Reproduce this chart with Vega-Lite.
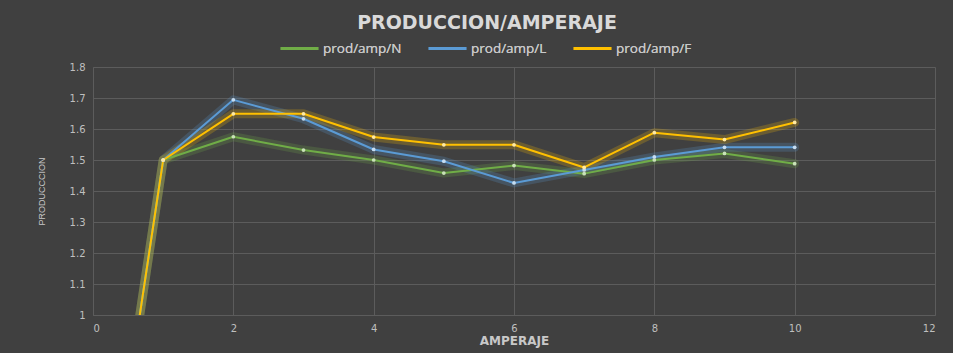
{
  "$schema": "https://vega.github.io/schema/vega-lite/v6.json",
  "width": 842,
  "height": 248,
  "autosize": "none",
  "padding": {"left": 93, "top": 67, "right": 18, "bottom": 38},
  "background": "#404040",
  "title": {
    "text": "PRODUCCION/AMPERAJE",
    "font": "DejaVu Sans",
    "fontSize": 19,
    "fontWeight": "bold",
    "color": "#D9D9D9",
    "anchor": "middle",
    "dx": -27,
    "offset": -5
  },
  "data": {
    "values": [
      {"amp": 0, "prod": 0, "serie": "prod/amp/N"},
      {"amp": 1, "prod": 1.5, "serie": "prod/amp/N"},
      {"amp": 2, "prod": 1.575, "serie": "prod/amp/N"},
      {"amp": 3, "prod": 1.532, "serie": "prod/amp/N"},
      {"amp": 4, "prod": 1.5, "serie": "prod/amp/N"},
      {"amp": 5, "prod": 1.458, "serie": "prod/amp/N"},
      {"amp": 6, "prod": 1.482, "serie": "prod/amp/N"},
      {"amp": 7, "prod": 1.456, "serie": "prod/amp/N"},
      {"amp": 8, "prod": 1.5, "serie": "prod/amp/N"},
      {"amp": 9, "prod": 1.521, "serie": "prod/amp/N"},
      {"amp": 10, "prod": 1.488, "serie": "prod/amp/N"},
      {"amp": 0, "prod": 0, "serie": "prod/amp/L"},
      {"amp": 1, "prod": 1.5, "serie": "prod/amp/L"},
      {"amp": 2, "prod": 1.694, "serie": "prod/amp/L"},
      {"amp": 3, "prod": 1.633, "serie": "prod/amp/L"},
      {"amp": 4, "prod": 1.534, "serie": "prod/amp/L"},
      {"amp": 5, "prod": 1.496, "serie": "prod/amp/L"},
      {"amp": 6, "prod": 1.426, "serie": "prod/amp/L"},
      {"amp": 7, "prod": 1.468, "serie": "prod/amp/L"},
      {"amp": 8, "prod": 1.51, "serie": "prod/amp/L"},
      {"amp": 9, "prod": 1.541, "serie": "prod/amp/L"},
      {"amp": 10, "prod": 1.541, "serie": "prod/amp/L"},
      {"amp": 0, "prod": 0, "serie": "prod/amp/F"},
      {"amp": 1, "prod": 1.5, "serie": "prod/amp/F"},
      {"amp": 2, "prod": 1.649, "serie": "prod/amp/F"},
      {"amp": 3, "prod": 1.649, "serie": "prod/amp/F"},
      {"amp": 4, "prod": 1.574, "serie": "prod/amp/F"},
      {"amp": 5, "prod": 1.549, "serie": "prod/amp/F"},
      {"amp": 6, "prod": 1.549, "serie": "prod/amp/F"},
      {"amp": 7, "prod": 1.476, "serie": "prod/amp/F"},
      {"amp": 8, "prod": 1.588, "serie": "prod/amp/F"},
      {"amp": 9, "prod": 1.566, "serie": "prod/amp/F"},
      {"amp": 10, "prod": 1.621, "serie": "prod/amp/F"}
    ]
  },
  "encoding": {
    "x": {
      "field": "amp",
      "type": "quantitative",
      "scale": {"domain": [0, 12], "nice": false},
      "axis": {
        "values": [0, 2, 4, 6, 8, 10, 12],
        "title": "AMPERAJE",
        "titleFont": "DejaVu Sans",
        "titleFontWeight": "bold",
        "titleFontSize": 12,
        "titleColor": "#C8C8C8",
        "titlePadding": 2
      }
    },
    "y": {
      "field": "prod",
      "type": "quantitative",
      "scale": {"domain": [1, 1.8], "nice": false, "zero": false},
      "axis": {
        "values": [1, 1.1, 1.2, 1.3, 1.4, 1.5, 1.6, 1.7, 1.8],
        "format": "~g",
        "title": "PRODUCCCION",
        "titleFont": "Liberation Sans",
        "titleFontWeight": "normal",
        "titleFontSize": 9,
        "titleColor": "#C8C8C8",
        "titlePadding": 23
      }
    },
    "color": {
      "field": "serie",
      "type": "nominal",
      "scale": {
        "domain": ["prod/amp/N", "prod/amp/L", "prod/amp/F"],
        "range": ["#70AD47", "#5B9BD5", "#FFC000"]
      },
      "legend": {
        "title": null,
        "orient": "none",
        "direction": "horizontal",
        "legendX": 186,
        "legendY": -39,
        "symbolType": "stroke",
        "symbolSize": 1444,
        "symbolStrokeWidth": 3,
        "labelColor": "#C8C8C8",
        "labelFont": "Open Sans",
        "labelFontSize": 13.5,
        "labelOffset": 3,
        "columnPadding": 20
      }
    }
  },
  "layer": [
    {
      "mark": {"type": "line", "clip": true, "strokeWidth": 9, "opacity": 0.22, "strokeJoin": "round", "strokeCap": "round"},
      "encoding": {"detail": {"field": "serie"}}
    },
    {
      "mark": {"type": "line", "clip": true, "strokeJoin": "round"},
      "encoding": {
        "strokeWidth": {
          "field": "serie",
          "type": "nominal",
          "scale": {"domain": ["prod/amp/N", "prod/amp/L", "prod/amp/F"], "range": [2, 2, 3]},
          "legend": null
        }
      }
    },
    {
      "mark": {"type": "point", "clip": true, "filled": true, "size": 14, "opacity": 1},
      "encoding": {
        "color": {
          "field": "serie",
          "type": "nominal",
          "scale": {
            "domain": ["prod/amp/N", "prod/amp/L", "prod/amp/F"],
            "range": ["#C9E2B8", "#C6DDF2", "#FFE9A3"]
          },
          "legend": null
        }
      }
    }
  ],
  "resolve": {"scale": {"color": "independent"}},
  "config": {
    "view": {"stroke": null},
    "axis": {
      "grid": true,
      "gridColor": "#5C5C5C",
      "gridWidth": 1,
      "domainColor": "#5C5C5C",
      "ticks": false,
      "labelColor": "#BFBFBF",
      "labelFont": "DejaVu Sans",
      "labelFontSize": 10,
      "labelPadding": 8
    }
  }
}
